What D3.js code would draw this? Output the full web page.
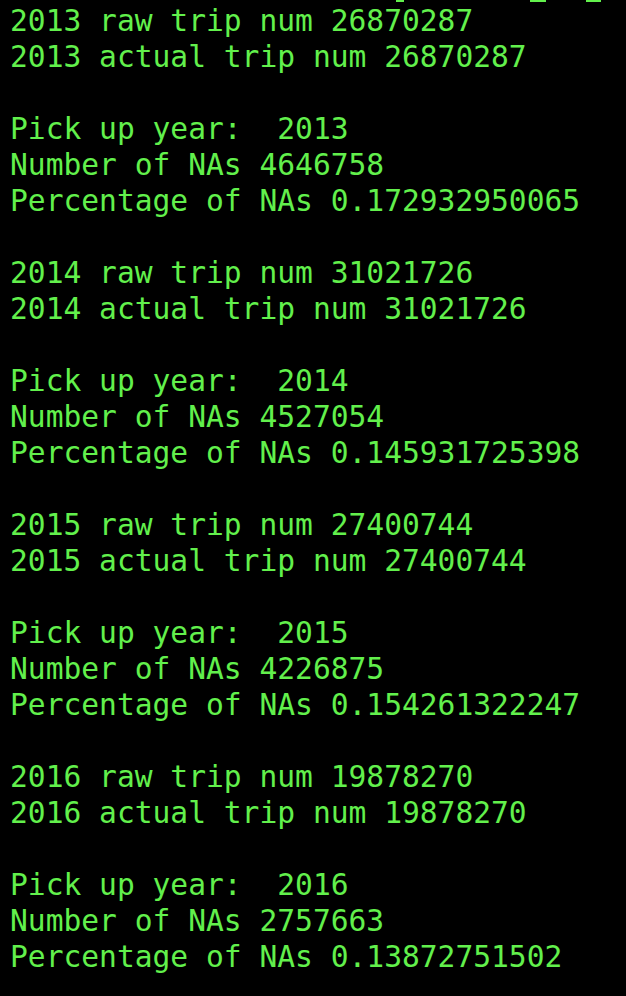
<!DOCTYPE html>
<html><head><meta charset="utf-8">
<script src="https://cdn.jsdelivr.net/npm/d3@7"></script>
<style>html,body{margin:0;background:#000;overflow:hidden}</style>
</head><body>
<script>
// per-year output of the trip count script
var years = ["2013", "2014", "2015", "2016"];
var rawTrips = [26870287, 31021726, 27400744, 19878270];
var actualTrips = [26870287, 31021726, 27400744, 19878270];
var naCounts = [4646758, 4527054, 4226875, 2757663];
var naPct = ["0.172932950065", "0.145931725398", "0.154261322247", "0.13872751502"];

var lines = [];
years.forEach(function(y, i){
  if (i > 0) lines.push("");
  lines.push(y + " raw trip num " + rawTrips[i]);
  lines.push(y + " actual trip num " + actualTrips[i]);
  lines.push("");
  lines.push("Pick up year:  " + y);
  lines.push("Number of NAs " + naCounts[i]);
  lines.push("Percentage of NAs " + naPct[i]);
});

var W = 626, H = 996;
var svg = d3.select("body").append("svg").attr("width", W).attr("height", H);
svg.append("rect").attr("width", W).attr("height", H).attr("fill", "#000");

var y = d3.scaleLinear().domain([0, lines.length - 1]).range([20, 956]);

svg.selectAll("text.ln").data(lines).enter().append("text")
  .attr("class", "ln")
  .attr("x", 10)
  .attr("y", function(d, i){ return y(i); })
  .attr("dy", "0.36em")
  .attr("fill", "#62f04c")
  .style("font-family", "'DejaVu Sans Mono', monospace")
  .style("font-size", "29.6px")
  .style("white-space", "pre")
  .text(function(d){ return d; });

// clipped underscores from the line above the view
svg.selectAll("rect.us").data([[396, 404], [530, 546], [586, 601]]).enter().append("rect")
  .attr("x", function(d){ return d[0]; }).attr("y", 0)
  .attr("width", function(d){ return d[1] - d[0]; }).attr("height", 2)
  .attr("fill", "#62f04c");
</script>
</body></html>
